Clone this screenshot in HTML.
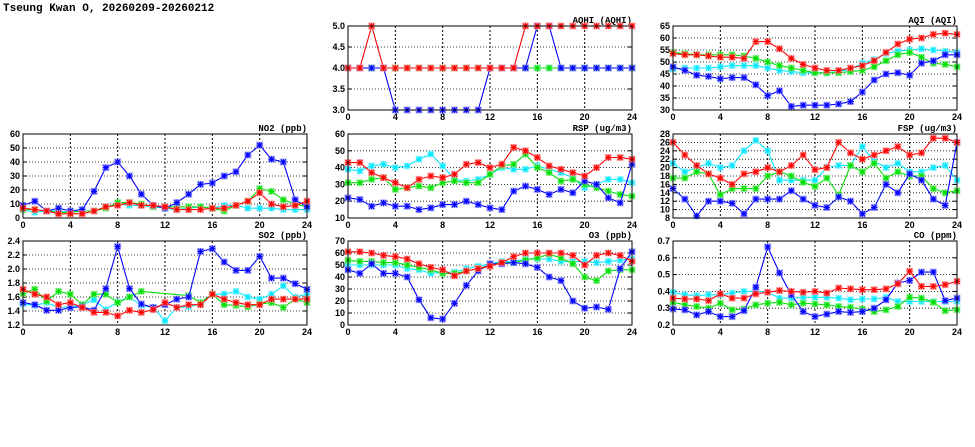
<!DOCTYPE html>
<html><head><meta charset="utf-8"><style>
body{margin:0;background:#fff;width:975px;height:447px;overflow:hidden}
svg{display:block}
text{font-family:"Liberation Sans",sans-serif;font-weight:bold;font-size:9px;fill:#000}
.mono{font-family:"Liberation Mono",monospace}
</style></head><body>
<svg id="chart" width="975" height="447" viewBox="0 0 975 447" xmlns="http://www.w3.org/2000/svg">
<text class="mono" x="3" y="11" style="font-size:11px;font-weight:bold">Tseung Kwan O, 20260209-20260212</text>
</svg>
<script>
const hours=[0,1,2,3,4,5,6,7,8,9,10,11,12,13,14,15,16,17,18,19,20,21,22,23,24];
const xTicks=[0,4,8,12,16,20,24];

const aqhiRed=[4,4,5,4,4,4,4,4,4,4,4,4,4,4,4,5,5,5,5,5,5,5,5,5,5];
const aqhiGreen=[4,4,4,4,4,4,4,4,4,4,4,4,4,4,4,4,4,4,4,4,4,4,4,4,4];
const aqhiCyan=[4,4,4,4,4,4,4,4,4,4,4,4,4,4,4,4,4,4,4,4,4,4,4,4,4];
const aqhiBlue=[4,4,4,4,3,3,3,3,3,3,3,3,4,4,4,4,5,5,4,4,4,4,4,4,4];
const aqhiTicks=[3.0,3.5,4.0,4.5,5.0];

const aqiRed=[53.5,53,53,52.5,52,52,51.5,58.5,58.5,55.5,51.5,49,47.5,46.5,46.5,47.5,48.5,50.5,54,57.5,59.5,60,61.5,62,61.5];
const aqiGreen=[54,53.5,53,53,53,53,52.5,51.5,50,48.5,47.5,46.5,45.5,45.5,45.5,46,46.5,48,50.5,53,54,52,49.5,49,48];
const aqiCyan=[47,47.5,47.5,47.5,48,48.5,48.5,48.5,47.5,46.5,46,45.5,45.5,45.5,46,47,49.5,51,53.5,54.5,55,55.5,55,54.5,54];
const aqiBlue=[48,46.5,44.5,44,43,43.5,43.5,40.5,36,38,31.5,32,32,32,32.5,33.5,37.5,42.5,45,45.5,44.5,49.5,50.5,53,53];
const aqiTicks=[30,35,40,45,50,55,60,65];

const no2Red=[7,6,5,3,3,3,5,8,9,11,9,9,8,6,6,6,7,7,9,12,18,10,8,9,12];
const no2Green=[6,6,5,4,4,5,5,7,11,11,10,8,8,8,8,8,7,5,9,12,21,19,13,10,8];
const no2Cyan=[6,4,5,5,4,5,5,8,10,9,9,8,7,6,7,8,7,9,9,7,7,7,6,6,6];
const no2Blue=[9,12,5,7,5,6,19,36,40,30,17,9,7,11,17,24,25,30,33,45,52,42,40,13,8];
const no2Ticks=[0,10,20,30,40,50,60];

const rspRed=[43,43,37,34,31,28,33,35,34,36,42,43,40,42,52,50,46,41,39,37,35,40,46,46,45];
const rspGreen=[31,31,33,34,27,28,29,28,31,32,31,31,36,41,42,48,40,37,32,33,30,28,26,24,23];
const rspCyan=[39,38,41,42,40,41,45,48,41,33,32,33,36,40,39,39,41,39,37,34,28,30,33,33,31];
const rspBlue=[22,21,17,19,17,17,15,16,18,18,20,18,16,15,26,29,27,24,27,25,32,30,22,19,42];
const rspTicks=[10,20,30,40,50,60];

const fspRed=[26,23,20.5,18.5,17.5,16,18.5,19,20,19,20.5,23,19.5,20,26,23.5,22,23,24,25,23,23.5,27,27,26];
const fspGreen=[17.5,17.5,19,18.5,13.5,15,15,15,18,19,18,16.5,15.5,17.5,13.5,20.5,19,21,17.5,19,18,18,15,14,14.5];
const fspCyan=[21,19,20,21,20,20.5,24,26.5,24,17,17,17,17,20,20.5,20.5,25,21.5,20,21,19,19,20,20.5,17];
const fspBlue=[15,12.5,8.5,12,12,11.5,9,12.5,12.5,12.5,14.5,12.5,11,10.5,13,12,9,10.5,16,14,18.5,17,12.5,11,26];
const fspTicks=[8,10,12,14,16,18,20,22,24,26,28];

const so2Red=[1.71,1.64,1.6,1.49,1.52,1.45,1.38,1.38,1.33,1.41,1.38,1.42,1.52,1.45,1.49,1.49,1.64,1.57,1.52,1.49,1.49,1.57,1.57,1.57,1.57];
const so2Green=[1.65,1.71,1.54,1.68,1.64,1.49,1.64,1.64,1.52,1.6,1.68,null,null,null,1.62,1.52,1.64,1.49,1.48,1.46,1.5,1.52,1.45,1.57,1.52];
const so2Cyan=[1.5,1.48,1.52,1.45,1.46,1.49,1.56,1.42,1.53,1.6,1.48,1.45,1.26,1.45,1.46,1.5,1.64,1.64,1.68,1.6,1.57,1.64,1.76,1.6,1.64];
const so2Blue=[1.52,1.49,1.41,1.41,1.45,1.46,1.41,1.72,2.32,1.72,1.5,1.45,1.49,1.57,1.6,2.25,2.29,2.1,1.98,1.98,2.18,1.87,1.87,1.79,1.71];
const so2Ticks=[1.2,1.4,1.6,1.8,2.0,2.2,2.4];

const o3Red=[61,61,60,58,57,55,51,48,46,41,45,47,49,52,57,60,60,60,60,58,50,58,60,58,53];
const o3Green=[54,53,53,52,52,50,48,46,43,43,45,47,50,52,52,54,56,59,56,51,40,37,45,46,46];
const o3Cyan=[50,50,50,50,50,47,46,43,44,44,47,49,51,53,53,55,55,55,53,53,53,52,53,54,55];
const o3Blue=[46,43,51,43,43,40,21,6,5,18,33,45,51,51,52,51,48,40,37,20,14,15,13,47,61];
const o3Ticks=[0,10,20,30,40,50,60,70];

const coRed=[0.36,0.355,0.355,0.345,0.385,0.36,0.36,0.385,0.395,0.405,0.4,0.395,0.4,0.39,0.42,0.415,0.41,0.41,0.415,0.445,0.52,0.43,0.43,0.44,0.46];
const coGreen=[0.335,0.32,0.31,0.3,0.33,0.29,0.295,0.32,0.33,0.335,0.32,0.33,0.325,0.32,0.31,0.305,0.295,0.28,0.29,0.31,0.365,0.36,0.335,0.285,0.29];
const coCyan=[0.395,0.38,0.375,0.38,0.38,0.39,0.4,0.4,0.395,0.36,0.36,0.365,0.365,0.365,0.36,0.35,0.355,0.355,0.365,0.34,0.34,0.34,0.34,0.34,0.34];
const coBlue=[0.295,0.29,0.26,0.28,0.25,0.25,0.285,0.425,0.665,0.51,0.38,0.28,0.25,0.265,0.28,0.275,0.28,0.3,0.35,0.45,0.465,0.515,0.515,0.345,0.36];
const coTicks=[0.2,0.3,0.4,0.5,0.6,0.7];

const NS='http://www.w3.org/2000/svg';
const svg=document.getElementById('chart');
const colors={red:'#ff0000',green:'#00e000',cyan:'#00e8ff',blue:'#0000ff'};
const halos={red:'#ff9090',green:'#90f090',cyan:'#a0f4ff',blue:'#9090ff'};

function mk(tag,attrs,parent){const e=document.createElementNS(NS,tag);for(const k in attrs)e.setAttribute(k,attrs[k]);(parent||svg).appendChild(e);return e;}

function panel(key,title,x0,y0,ticks,fmt,series){
  const w=284,h=84;
  const lo=ticks[0],hi=ticks[ticks.length-1];
  const xs=v=>x0+v/24*w;
  const ys=v=>y0+h-(v-lo)/(hi-lo)*h;
  const g=mk('g',{});
  
  
  const grid=mk('g',{},g);
  
  
  ticks.forEach((t,i)=>{
    const y=ys(t);
    if(i>0&&i<ticks.length-1)mk('line',{x1:x0,x2:x0+w,y1:y,y2:y,stroke:'#000','stroke-width':0.8,'stroke-dasharray':'1,2'},grid);
    mk('line',{x1:x0,x2:x0+4,y1:y,y2:y,stroke:'#000','stroke-width':1},grid);
    mk('line',{x1:x0+w-4,x2:x0+w,y1:y,y2:y,stroke:'#000','stroke-width':1},grid);
    const tx=mk('text',{x:x0-3,y:y+3,'text-anchor':'end'},g);
    tx.textContent=fmt(t);
    
    
  });
  xTicks.forEach((t,i)=>{
    const x=xs(t);
    if(i>0&&i<xTicks.length-1)mk('line',{x1:x,x2:x,y1:y0,y2:y0+h,stroke:'#000','stroke-width':1,'stroke-dasharray':'2,2'},grid);
    const tx=mk('text',{x:x,y:y0+h+10,'text-anchor':'middle'},g);
    tx.textContent=t;
    
    
  });
  const tt=mk('text',{x:x0+w,y:y0-3,'text-anchor':'end',class:'mono',style:'font-size:9px'},g);
  tt.textContent=title;
  
  
  const clipId='c'+key;
  const cp=mk('clipPath',{id:clipId},g);mk('rect',{x:x0-5,y:y0-5,width:w+10,height:h+10},cp);
  const sg=mk('g',{'clip-path':'url(#'+clipId+')'},g);
  series.forEach(([cname,vals])=>{
    const pts=[];vals.forEach((v,i)=>{if(v!==null&&v!==undefined)pts.push([xs(hours[i]),ys(v)]);});
    const line=mk('polyline',{points:pts.map(p=>p[0].toFixed(1)+','+p[1].toFixed(1)).join(' '),fill:'none',stroke:colors[cname],'stroke-width':1.1},sg);
    
    
    pts.forEach(([x,y])=>{
      const m=mk('g',{},sg);
      
      
      mk('rect',{x:x-3.5,y:y-3.5,width:7,height:7,fill:halos[cname],opacity:0.7},m);
      mk('path',{d:`M${x-3},${y}H${x+3}M${x},${y-3}V${y+3}M${x-2.5},${y-2.5}L${x+2.5},${y+2.5}M${x-2.5},${y+2.5}L${x+2.5},${y-2.5}`,stroke:colors[cname],'stroke-width':1.1},m);
    });
  });
  const fr=mk('rect',{x:x0,y:y0,width:w,height:h,fill:'none',stroke:'#000','stroke-width':1},g);
  
  
}
const f0=t=>String(t), f1=t=>t.toFixed(1);
panel('aqhi','AQHI (AQHI)',348,26,aqhiTicks,f1,[['cyan',aqhiCyan],['green',aqhiGreen],['blue',aqhiBlue],['red',aqhiRed]]);
panel('aqi','AQI (AQI)',673,26,aqiTicks,f0,[['cyan',aqiCyan],['green',aqiGreen],['blue',aqiBlue],['red',aqiRed]]);
panel('no2','NO2 (ppb)',23,134,no2Ticks,f0,[['cyan',no2Cyan],['green',no2Green],['blue',no2Blue],['red',no2Red]]);
panel('rsp','RSP (ug/m3)',348,134,rspTicks,f0,[['cyan',rspCyan],['green',rspGreen],['blue',rspBlue],['red',rspRed]]);
panel('fsp','FSP (ug/m3)',673,134,fspTicks,f0,[['cyan',fspCyan],['green',fspGreen],['blue',fspBlue],['red',fspRed]]);
panel('so2','SO2 (ppb)',23,241,so2Ticks,f1,[['cyan',so2Cyan],['green',so2Green],['blue',so2Blue],['red',so2Red]]);
panel('o3','O3 (ppb)',348,241,o3Ticks,f0,[['cyan',o3Cyan],['green',o3Green],['blue',o3Blue],['red',o3Red]]);
panel('co','CO (ppm)',673,241,coTicks,f1,[['cyan',coCyan],['green',coGreen],['blue',coBlue],['red',coRed]]);
</script>
</body></html>
